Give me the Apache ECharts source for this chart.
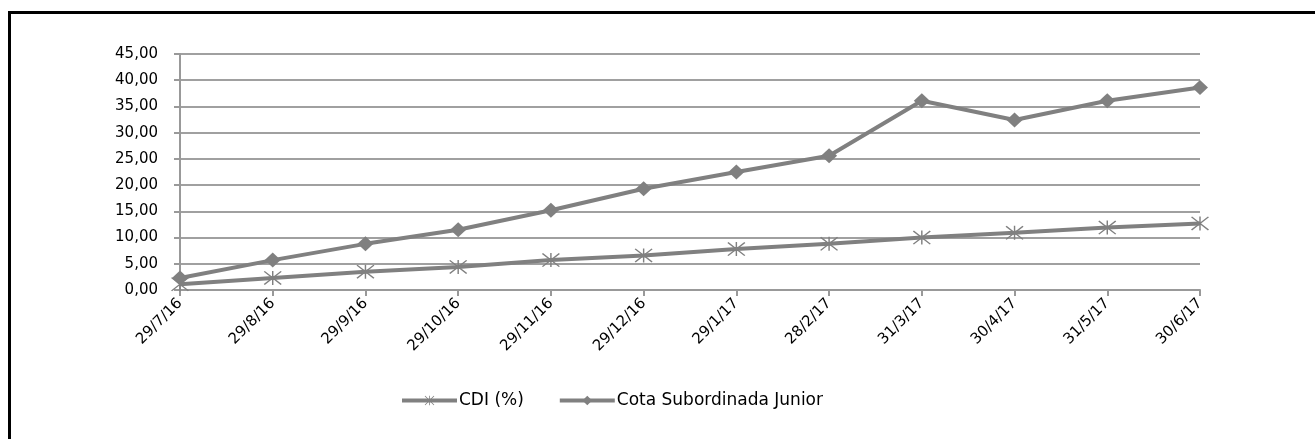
<!DOCTYPE html>
<html>
<head>
<meta charset="utf-8">
<script src="https://cdn.jsdelivr.net/npm/echarts@6/dist/echarts.min.js"></script>
<style>
  html, body { margin: 0; padding: 0; background: #fff; overflow: hidden; }
  #frame { position: absolute; left: 8px; top: 11px; width: 1400px; height: 500px; border: 3px solid #000; box-sizing: border-box; }
  #chart { position: absolute; left: 0; top: 0; width: 1315px; height: 439px; }
</style>
</head>
<body>
<div id="frame"></div>
<div id="chart"></div>
<script>
const categories = ['29/7/16','29/8/16','29/9/16','29/10/16','29/11/16','29/12/16','29/1/17','28/2/17','31/3/17','30/4/17','31/5/17','30/6/17'];
const cdi = [1.1, 2.3, 3.5, 4.4, 5.7, 6.6, 7.8, 8.8, 10.0, 10.9, 11.9, 12.7];
const cotaSubJunior = [2.3, 5.7, 8.8, 11.5, 15.2, 19.3, 22.5, 25.6, 36.1, 32.4, 36.1, 38.6];
const seriesNames = ['CDI (%)', 'Cota Subordinada Junior'];

const starPath = 'path://M0,1.2 L1.2,0 L20,18.8 L18.8,20 Z M18.8,0 L20,1.2 L1.2,20 L0,18.8 Z M9.2,0 L10.8,0 L10.8,20 L9.2,20 Z';
const FONT = 'DejaVu Sans';
const LINE = '#808080';

const chart = echarts.init(document.getElementById('chart'), null, { renderer: 'canvas' });
chart.setOption({
  animation: false,
  backgroundColor: 'transparent',
  grid: { left: 180, right: 115, top: 54, bottom: 149, containLabel: false },
  legend: {
    left: 395, top: 387,
    itemWidth: 55, itemHeight: 12, itemGap: 34,
    lineStyle: { width: 4 },
    textStyle: { fontFamily: FONT, fontSize: 17, color: '#000', padding: [0, 0, 0, -3] },
    data: seriesNames
  },
  xAxis: {
    type: 'category',
    data: categories,
    boundaryGap: false,
    axisLine: { lineStyle: { color: '#999', width: 2 } },
    axisTick: { show: true, alignWithLabel: true, length: 6, lineStyle: { color: '#999', width: 2 } },
    axisLabel: { rotate: 45, fontFamily: FONT, fontSize: 15, color: '#000', margin: 11, interval: 0 }
  },
  yAxis: {
    type: 'value',
    min: 0, max: 45, interval: 5,
    axisLine: { show: true, lineStyle: { color: '#999', width: 2 } },
    axisTick: { show: true, length: 6, lineStyle: { color: '#999', width: 2 } },
    splitLine: { lineStyle: { color: '#a0a0a0', width: 2 } },
    axisLabel: {
      fontFamily: FONT, fontSize: 15, color: '#000', margin: 22,
      formatter: v => v.toFixed(2).replace('.', ',')
    }
  },
  series: [
    {
      name: seriesNames[0], type: 'line', data: cdi,
      symbol: starPath, symbolSize: [18, 14], showAllSymbol: true,
      lineStyle: { color: LINE, width: 4 },
      itemStyle: { color: LINE },
      z: 3
    },
    {
      name: seriesNames[1], type: 'line', data: cotaSubJunior,
      symbol: 'diamond', symbolSize: [16, 15], showAllSymbol: true,
      lineStyle: { color: LINE, width: 4 },
      itemStyle: { color: LINE },
      z: 4
    }
  ]
});
</script>
</body>
</html>
